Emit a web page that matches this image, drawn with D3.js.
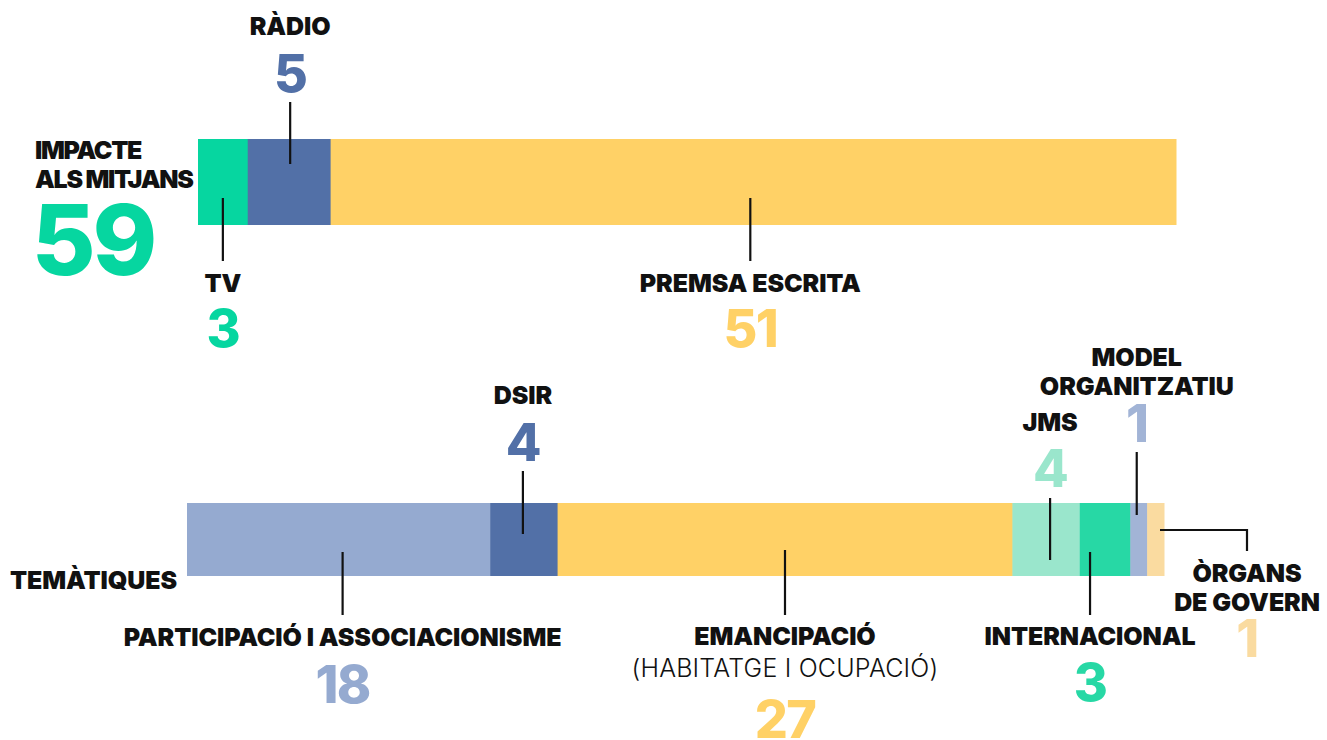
<!DOCTYPE html>
<html>
<head>
<meta charset="utf-8">
<script src="https://cdn.jsdelivr.net/npm/d3@7"></script>
<style>
  body { margin: 0; background: #fff; }
  svg text { font-family: Inter, "Noto Sans", sans-serif; }
</style>
</head>
<body>
<svg width="1327" height="740"></svg>
<script>
// data
const mediaCats = ["TV", "RÀDIO", "PREMSA ESCRITA"];
const mediaValues = [3, 5, 51];

const themeCats = ["PARTICIPACIÓ I ASSOCIACIONISME", "DSIR", "EMANCIPACIÓ", "JMS", "INTERNACIONAL", "MODEL ORGANITZATIU", "ÒRGANS DE GOVERN"];
const themeValues = [18, 4, 27, 4, 3, 1, 1];

const mediaColors = ["#06d6a0", "#5270a7", "#ffd166"];
const themeColors = ["#95aad0", "#5270a7", "#ffd166", "#9ae6cc", "#27d8a5", "#a2b4d6", "#fadba0"];

const LS = 25; // label font size
const svg = d3.select("svg");

function stack(values) {
  let acc = 0;
  return values.map((v, i) => { const s = acc; acc += v; return {i: i, v: v, x0: s, x1: acc}; });
}

function label(g, x, y, lines, weight, anchor) {
  const t = g.append("text")
    .attr("x", x).attr("y", y)
    .attr("text-anchor", anchor || "middle")
    .attr("font-size", LS)
    .attr("font-weight", weight || 900)
    .attr("letter-spacing", weight === 300 ? 0.2 : -0.1)
    .attr("fill", "#111");
  lines.forEach((l, k) => {
    t.append("tspan").attr("x", x).attr("dy", k === 0 ? 0 : 29).text(l);
  });
  return t;
}

function number(g, x, y, v, color, size) {
  g.append("text")
    .attr("x", x).attr("y", y)
    .attr("text-anchor", "middle")
    .attr("font-size", size || 52)
    .attr("font-weight", 800)
    .attr("letter-spacing", -0.03 * (size || 52))
    .attr("fill", color)
    .text(v);
}

function leader(g, x, y1, y2) {
  g.append("line").attr("x1", x).attr("x2", x).attr("y1", y1).attr("y2", y2)
    .attr("stroke", "#111").attr("stroke-width", 2.2);
}

// ---- top: impacte als mitjans
const xMedia = d3.scaleLinear().domain([0, d3.sum(mediaValues)]).range([198, 1176]);
const mTop = 139, mBot = 225;
const gm = svg.append("g");

gm.selectAll("rect").data(stack(mediaValues)).enter().append("rect")
  .attr("x", d => xMedia(d.x0))
  .attr("width", d => xMedia(d.x1) - xMedia(d.x0) + 0.5)
  .attr("y", mTop).attr("height", mBot - mTop)
  .attr("fill", d => mediaColors[d.i]);

// where each label sits: above (up) or below the bar
const mediaSide = ["down", "up", "down"];
const mediaDx = [0, 1, -3];
stack(mediaValues).forEach(d => {
  const cx = (xMedia(d.x0) + xMedia(d.x1)) / 2 + mediaDx[d.i];
  if (mediaSide[d.i] === "up") {
    leader(gm, cx, 102, 164);
    number(gm, cx, 92, d.v, mediaColors[d.i]);
    label(gm, cx, 35, [mediaCats[d.i]]);
  } else {
    leader(gm, cx, 198, 261);
    label(gm, cx, 292, [mediaCats[d.i]]);
    number(gm, cx, 347, d.v, mediaColors[d.i]);
  }
});

label(gm, 35, 159, ["IMPACTE", "ALS MITJANS"], 900, "start")
  .attr("letter-spacing", -1.3);
gm.append("text")
  .attr("x", 93).attr("y", 275)
  .attr("text-anchor", "middle")
  .attr("font-size", 98).attr("font-weight", 800)
  .attr("letter-spacing", -3)
  .attr("fill", mediaColors[0])
  .text(d3.sum(mediaValues));

// ---- bottom: temàtiques
const xTheme = d3.scaleLinear().domain([0, d3.sum(themeValues)]).range([187, 1164]);
const tTop = 503, tBot = 576;
const gt = svg.append("g");

gt.selectAll("rect").data(stack(themeValues)).enter().append("rect")
  .attr("x", d => xTheme(d.x0))
  .attr("width", d => xTheme(d.x1) - xTheme(d.x0) + 0.5)
  .attr("y", tTop).attr("height", tBot - tTop)
  .attr("fill", d => themeColors[d.i]);

label(gt, 10, 589, ["TEMÀTIQUES"], 900, "start");

const th = stack(themeValues);
const cxT = d => (xTheme(d.x0) + xTheme(d.x1)) / 2;

// participació
let d = th[0], cx = cxT(d) + 4;
leader(gt, cx, 552, 615);
label(gt, cx, 646, [themeCats[0]]);
number(gt, cx, 703, d.v, themeColors[0]);

// dsir
d = th[1]; cx = cxT(d) - 1;
leader(gt, cx, 471, 534);
number(gt, cx, 461, d.v, themeColors[1]);
label(gt, cx, 404, [themeCats[1]]);

// emancipació
d = th[2]; cx = cxT(d);
leader(gt, cx, 550, 615);
label(gt, cx, 645, [themeCats[2]]);
label(gt, cx, 677, ["(HABITATGE I OCUPACIÓ)"], 300);
number(gt, cx, 738, d.v, themeColors[2]);

// jms
d = th[3]; cx = cxT(d) + 4;
leader(gt, cx, 498, 560);
number(gt, cx, 487, d.v, themeColors[3]);
label(gt, cx, 431, [themeCats[3]]);

// internacional
d = th[4]; cx = cxT(d) - 15;
leader(gt, cx, 552, 615);
label(gt, cx, 645, [themeCats[4]]);
number(gt, cx, 701, d.v, themeColors[4]);

// model organitzatiu
d = th[5]; cx = cxT(d) - 2;
leader(gt, cx, 452, 515);
number(gt, cx, 442, d.v, themeColors[5]);
label(gt, cx, 366, ["MODEL", "ORGANITZATIU"]);

// òrgans de govern (elbow leader)
d = th[6];
const ex = 1247;
gt.append("path")
  .attr("d", `M${xTheme(d.x1) - 4},530 H${ex} V551`)
  .attr("fill", "none").attr("stroke", "#111").attr("stroke-width", 2.2);
label(gt, ex, 582, ["ÒRGANS", "DE GOVERN"]);
number(gt, ex, 657, d.v, themeColors[6]);
</script>
</body>
</html>
